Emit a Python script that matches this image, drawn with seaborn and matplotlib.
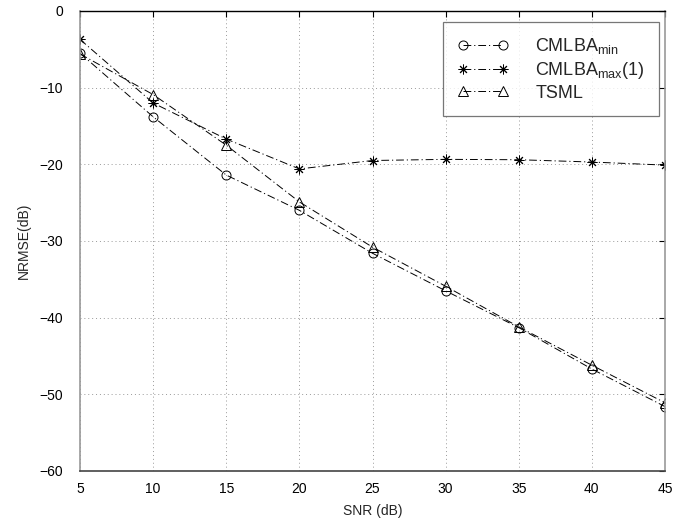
import matplotlib
matplotlib.use("Agg")
import matplotlib.pyplot as plt
import seaborn as sns
import pandas as pd

snr = [5, 10, 15, 20, 25, 30, 35, 40, 45]
cmlba_min = [-5.5, -13.8, -21.4, -26.0, -31.6, -36.5, -41.3, -46.7, -51.6]
cmlba_max = [-3.7, -12.0, -16.7, -20.6, -19.5, -19.35, -19.4, -19.7, -20.1]
tsml = [-5.6, -10.9, -17.5, -24.9, -30.8, -35.9, -41.2, -46.2, -51.1]

labels = [r"CMLBA$_{\mathrm{min}}$", r"CMLBA$_{\mathrm{max}}$(1)", "TSML"]
series = [cmlba_min, cmlba_max, tsml]
markers = ["o", (8, 2, 0), "^"]
msizes = [6.5, 7, 7.5]

sns.set_theme(style="white")
plt.rcParams["font.family"] = ["Liberation Sans", "DejaVu Sans"]
plt.rcParams["mathtext.fontset"] = "custom"
plt.rcParams["mathtext.rm"] = "Liberation Sans"
plt.rcParams["mathtext.it"] = "Liberation Sans:italic"

fig = plt.figure(figsize=(6.85, 5.21), dpi=100)
ax = fig.add_axes([80 / 685, 50 / 521, 585 / 685, 460 / 521])

dash = (0, (8, 3, 1.2, 3))
for vals, lab, mk, ms in zip(series, labels, markers, msizes):
    df = pd.DataFrame({"snr": snr, "v": vals})
    sns.lineplot(data=df, x="snr", y="v", ax=ax, color="black", linewidth=0.7,
                 linestyle=dash, marker=mk, markersize=ms, markerfacecolor="none",
                 markeredgecolor="black", markeredgewidth=0.7, label=lab)

ax.set_xlim(5, 45)
ax.set_ylim(-60, 0)
ax.set_xticks(snr)
ax.set_yticks([0, -10, -20, -30, -40, -50, -60])
ax.set_yticklabels(["0", "\u221210", "\u221220", "\u221230", "\u221240", "\u221250", "\u221260"])
ax.grid(True, linestyle=(0, (1, 3)), color="#999999", linewidth=0.7)
ax.tick_params(direction="in", top=True, right=True, length=4, width=0.8,
               labelsize=10, colors="black")
ax.tick_params(axis="y", pad=12)
ax.tick_params(axis="x", pad=8)
ax.spines["top"].set_color("black")
ax.spines["bottom"].set_color("#444444")
ax.spines["left"].set_color("#999999")
ax.spines["right"].set_color("#999999")
for s in ax.spines.values():
    s.set_linewidth(1.2)
ax.spines["top"].set_linewidth(1.0)

ax.set_xlabel("SNR (dB)", fontsize=10, labelpad=6)
ax.set_ylabel("NRMSE(dB)", fontsize=10, labelpad=6)

leg = ax.legend(loc="upper right", bbox_to_anchor=((659 - 80) / 585, (471 - 22) / 460),
                borderaxespad=0, numpoints=2, fontsize=13, handlelength=2.8,
                handletextpad=1.5, frameon=True, fancybox=False, borderpad=0.8,
                labelspacing=0.2)
leg.get_frame().set_edgecolor("#555555")
leg.get_frame().set_linewidth(0.9)

fig.savefig("out.png", dpi=100)
